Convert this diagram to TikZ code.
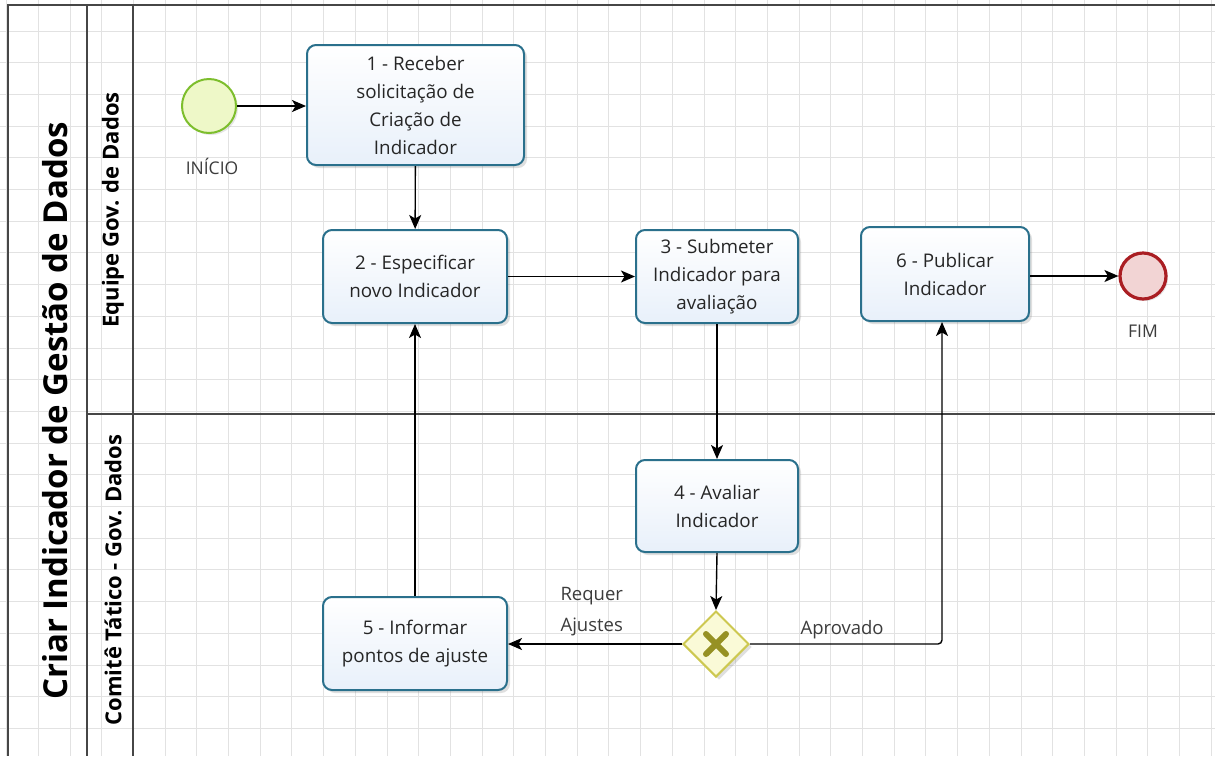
\documentclass[tikz,border=0pt]{standalone}
\usepackage{fontspec}
\setmainfont{Open Sans}
\usetikzlibrary{arrows.meta,shapes.geometric,shadows,calc}
\definecolor{taskborder}{RGB}{42,112,140}
\definecolor{taskfill}{RGB}{232,240,250}
\definecolor{gridc}{RGB}{226,226,226}
\definecolor{poolc}{RGB}{70,70,70}
\definecolor{startb}{RGB}{125,190,45}
\definecolor{startf}{RGB}{238,248,200}
\definecolor{endb}{RGB}{170,30,35}
\definecolor{endf}{RGB}{242,212,212}
\definecolor{gateb}{RGB}{205,200,80}
\definecolor{gatef}{RGB}{250,250,215}
\definecolor{gatex}{RGB}{150,145,35}
\definecolor{labelc}{RGB}{60,60,60}
\tikzset{
  taskbox/.style={draw=taskborder, line width=2pt, rounded corners=9pt,
    top color=white, bottom color=taskfill, align=center,
    font=\fontsize{18.8}{28}\selectfont, text=black!85,
    drop shadow={opacity=0.25, shadow xshift=3pt, shadow yshift=-3pt},
    inner sep=0pt},
  startev/.style={circle, draw=startb, line width=2pt, fill=startf,
    minimum size=54pt, inner sep=0pt,
    drop shadow={opacity=0.2, shadow xshift=2pt, shadow yshift=-2pt}},
  endev/.style={circle, draw=endb, line width=3.2pt, fill=endf,
    minimum size=46pt, inner sep=0pt,
    drop shadow={opacity=0.2, shadow xshift=2pt, shadow yshift=-2pt}},
  gateway/.style={diamond, draw=gateb, line width=2pt, fill=gatef,
    minimum size=66pt, inner sep=0pt, aspect=1,
    drop shadow={opacity=0.25, shadow xshift=3pt, shadow yshift=-3pt}},
  flow/.style={draw=black, line width=1.4pt,
    -{Stealth[length=14pt,width=12pt,inset=3.5pt]}},
  evlabel/.style={font=\fontsize{17.5}{20}\selectfont, text=labelc},
  flowlabel/.style={font=\fontsize{18.5}{31}\selectfont, text=labelc, align=left},
  lanetitle/.style={font=\bfseries\fontsize{22}{26}\selectfont, rotate=90},
  pooltitle/.style={font=\bfseries\fontsize{33}{38}\selectfont, rotate=90},
  poolline/.style={draw=poolc, line width=1.6pt}
}
\begin{document}
\begin{tikzpicture}[x=1pt,y=-1pt]
\useasboundingbox (0,0) rectangle (1215,756);
\fill[white] (0,0) rectangle (1215,756);
% grid
\foreach \i in {0,...,38} {
  \draw[gridc, line width=0.8pt] ({6.5+31.7*\i},0) -- ({6.5+31.7*\i},756);
}
\foreach \j in {0,...,24} {
  \draw[gridc, line width=0.8pt] (0,{-0.8+31.7*\j}) -- (1215,{-0.8+31.7*\j});
}
% pool
\draw[poolline] (1215,5) -- (8,5) -- (8,756);
\draw[poolline] (87,5) -- (87,756);
\draw[poolline] (133,5) -- (133,756);
\draw[poolline] (87,414) -- (1215,414);
\node[pooltitle] (pool) at (55,411) {Criar Indicador de Gestão de Dados};
\node[lanetitle] (lane1) at (113,210) {Equipe Gov. de Dados};
\node[lanetitle] (lane2) at (113,580) {Comitê Tático - Gov. Dados};

% nodes
\node[startev] (start) at (209,106) {};
\node[evlabel] (startlbl) at (212,166) {INÍCIO};
\node[taskbox, minimum width=217pt, minimum height=120pt] (t1) at (415.5,105) {1 - Receber\\solicitação de\\Criação de\\Indicador};
\node[taskbox, minimum width=184pt, minimum height=93pt] (t2) at (415,276.5) {2 - Especificar\\novo Indicador};
\node[taskbox, minimum width=162pt, minimum height=93pt] (t3) at (717,276.5) {3 - Submeter\\Indicador para\\avaliação};
\node[taskbox, minimum width=168pt, minimum height=94pt] (t6) at (945,274) {6 - Publicar\\Indicador};
\node[endev] (end) at (1143,276) {};
\node[evlabel] (endlbl) at (1143,331) {FIM};
\node[taskbox, minimum width=162pt, minimum height=92pt] (t4) at (717,506) {4 - Avaliar\\Indicador};
\node[taskbox, minimum width=184pt, minimum height=93pt] (t5) at (415,643.5) {5 - Informar\\pontos de ajuste};
\node[gateway] (gw) at (716,644) {};
\draw[gatex, line width=6pt, line cap=round] ($(gw.center)+(-10,-10)$) -- ($(gw.center)+(10,10)$);
\draw[gatex, line width=6pt, line cap=round] ($(gw.center)+(-10,10)$) -- ($(gw.center)+(10,-10)$);

% flows
\draw[flow] (start) -- (t1.west |- start);
\draw[flow] (t1) -- (t2);
\draw[flow] (t2.east) -- (t3.west |- t2.east);
\draw[flow] (t3.south) -- (t3.south |- t4.north);
\draw[flow] (t4.south) -- (gw.north);
\draw[flow] (gw.west) -- (t5.east |- gw.west);
\coordinate (bend) at (942,644);
\draw[flow, rounded corners=4pt] (gw.east) -- (bend) -- (bend |- t6.south);
\draw[flow] (t5.north) -- (t2.south);
\draw[flow] (t6.east |- end) -- (end.west);
\node[flowlabel, anchor=north west] (lreq) at (557,584) {Requer\\Ajustes};
\node[flowlabel, anchor=west] (lapr) at (797,630) {Aprovado};
\end{tikzpicture}
\end{document}
